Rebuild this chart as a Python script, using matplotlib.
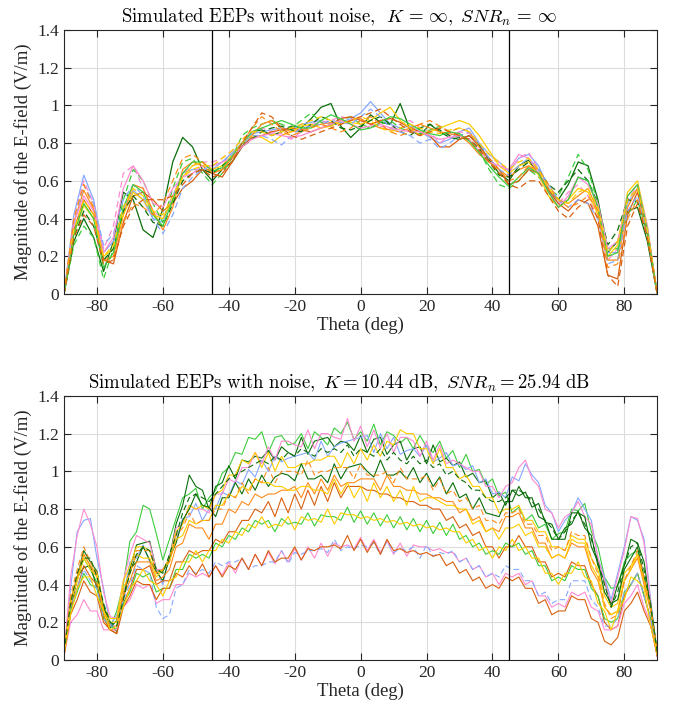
import numpy as np
import matplotlib
matplotlib.use("Agg")
import matplotlib.pyplot as plt
from matplotlib.ticker import FormatStrFormatter

plt.rcParams.update({
    "font.family": "Liberation Serif",
    "mathtext.fontset": "cm",
    "axes.unicode_minus": False,
})

# -- Colours (MATLAB-like palette in the figure) --
DGREEN = "#0a6e0a"
BLUE = "#86a8ff"
PINK = "#ff8ad0"
GREEN = "#3ccc3c"
ORANGE = "#ff8c1a"
DORANGE = "#d9600f"
YELLOW = "#ffcc00"

# -- Top panel: EEPs without noise, sampled every 3 deg (values x100) --
theta_top = np.arange(-90, 91, 3)

top_t1 = [0, 28, 40, 30, 12, 28, 54, 50, 34, 30,
          45, 70, 83, 78, 66, 60, 66, 70, 78, 86,
          87, 84, 86, 89, 88, 93, 99, 101, 89, 83,
          88, 95, 91, 90, 101, 87, 84, 90, 86, 83,
          82, 84, 79, 71, 64, 60, 68, 71, 64, 55,
          50, 58, 70, 68, 50, 22, 28, 44, 46, 28, 0]
top_t2 = [0, 42, 63, 50, 22, 28, 45, 55, 50, 40,
          38, 52, 64, 66, 66, 66, 70, 75, 80, 85,
          86, 87, 88, 87, 90, 91, 92, 90, 91, 93,
          96, 102, 96, 90, 88, 89, 86, 83, 80, 82,
          86, 88, 80, 74, 70, 65, 72, 74, 68, 56,
          48, 50, 62, 60, 46, 22, 22, 48, 56, 34, 0]
top_t3 = [0, 40, 60, 48, 24, 36, 64, 68, 56, 44,
          40, 52, 64, 68, 70, 70, 72, 76, 82, 86,
          88, 86, 85, 82, 86, 90, 91, 92, 94, 93,
          92, 90, 89, 88, 90, 92, 88, 86, 80, 84,
          86, 85, 78, 72, 70, 64, 72, 75, 66, 54,
          48, 54, 58, 52, 40, 18, 24, 50, 57, 34, 0]
top_t4 = [0, 26, 36, 30, 8, 24, 50, 66, 60, 48,
          38, 56, 70, 72, 64, 58, 64, 72, 84, 88,
          90, 92, 90, 88, 92, 96, 91, 89, 92, 94,
          90, 88, 90, 92, 88, 86, 85, 87, 89, 86,
          84, 82, 76, 66, 58, 56, 60, 66, 62, 56,
          52, 62, 74, 66, 48, 24, 24, 42, 50, 32, 0]
top_t5 = [0, 38, 55, 45, 18, 20, 42, 58, 56, 44,
          34, 46, 66, 70, 68, 64, 66, 72, 78, 84,
          90, 92, 88, 86, 87, 89, 90, 91, 90, 92,
          93, 90, 88, 87, 86, 88, 90, 88, 86, 85,
          84, 80, 74, 70, 66, 62, 66, 68, 64, 56,
          50, 48, 52, 56, 44, 18, 18, 46, 56, 34, 0]
top_t6 = [0, 34, 50, 42, 18, 16, 38, 52, 54, 50,
          44, 48, 56, 60, 66, 64, 62, 70, 78, 83,
          84, 86, 87, 88, 87, 86, 88, 90, 93, 94,
          92, 90, 92, 93, 91, 88, 86, 84, 78, 78,
          82, 84, 78, 72, 66, 58, 60, 66, 64, 55,
          48, 44, 50, 48, 36, 10, 8, 42, 54, 33, 0]
top_t7 = [0, 32, 47, 40, 20, 24, 42, 54, 50, 42,
          40, 50, 62, 68, 70, 66, 68, 74, 80, 84,
          83, 80, 84, 86, 89, 90, 88, 89, 92, 91,
          90, 92, 96, 99, 92, 88, 84, 86, 88, 90,
          92, 90, 84, 76, 68, 64, 68, 70, 63, 52,
          46, 50, 56, 54, 42, 20, 26, 54, 60, 36, 0]
top_t8 = [0, 30, 44, 36, 18, 24, 44, 52, 46, 38,
          36, 48, 60, 64, 66, 64, 68, 72, 78, 82,
          86, 88, 89, 87, 86, 90, 94, 92, 88, 87,
          89, 92, 94, 90, 86, 84, 88, 90, 87, 84,
          83, 82, 77, 70, 63, 62, 66, 70, 66, 58,
          54, 60, 66, 60, 48, 26, 34, 50, 49, 30, 0]
top_t9 = [0, 36, 58, 48, 26, 32, 50, 58, 52, 40,
          32, 42, 56, 62, 66, 68, 70, 74, 79, 84,
          84, 82, 79, 84, 88, 89, 90, 92, 91, 90,
          94, 98, 94, 88, 86, 84, 80, 82, 77, 80,
          84, 86, 80, 72, 66, 63, 68, 72, 66, 58,
          50, 46, 50, 48, 40, 16, 18, 44, 52, 32, 0]
top_t10 = [0, 38, 52, 44, 22, 30, 56, 68, 60, 48,
           46, 56, 62, 64, 68, 68, 70, 72, 78, 82,
           84, 85, 84, 83, 84, 86, 88, 90, 92, 90,
           88, 89, 90, 88, 87, 86, 86, 84, 82, 83,
           84, 82, 76, 70, 68, 66, 74, 72, 64, 54,
           46, 52, 62, 58, 48, 24, 28, 52, 58, 36, 0]
top_t11 = [0, 32, 48, 40, 14, 22, 46, 58, 54, 42,
           36, 50, 64, 70, 70, 65, 67, 73, 80, 86,
           88, 90, 92, 90, 88, 88, 92, 95, 93, 90,
           87, 88, 91, 94, 93, 90, 87, 85, 84, 86,
           85, 81, 75, 68, 62, 57, 62, 67, 64, 54,
           46, 50, 62, 60, 46, 20, 22, 52, 58, 34, 0]
top_t12 = [0, 40, 58, 46, 18, 18, 38, 48, 46, 42,
           48, 60, 72, 74, 70, 64, 66, 72, 80, 88,
           94, 90, 86, 84, 86, 88, 90, 88, 86, 88,
           92, 94, 90, 86, 84, 86, 90, 92, 89, 86,
           88, 86, 78, 70, 66, 60, 62, 68, 66, 58,
           50, 46, 48, 52, 44, 14, 16, 40, 50, 30, 0]
top_t13 = [0, 34, 50, 42, 20, 26, 46, 56, 52, 44,
           42, 52, 62, 66, 68, 68, 72, 76, 82, 86,
           86, 84, 86, 88, 90, 92, 94, 92, 90, 92,
           94, 92, 88, 86, 88, 90, 88, 86, 85, 87,
           88, 86, 80, 74, 70, 66, 70, 72, 66, 56,
           50, 48, 54, 56, 46, 22, 28, 50, 56, 34, 0]
top_t14 = [0, 30, 42, 36, 16, 18, 36, 46, 50, 50,
           50, 52, 58, 64, 66, 62, 64, 70, 80, 88,
           96, 94, 88, 84, 82, 84, 86, 88, 90, 92,
           94, 96, 98, 94, 90, 86, 84, 86, 88, 86,
           84, 82, 76, 70, 64, 58, 56, 60, 60, 52,
           44, 40, 46, 50, 40, 10, 4, 36, 48, 30, 0]

top_curves = [top_t1, top_t2, top_t3, top_t4, top_t5, top_t6, top_t7,
              top_t8, top_t9, top_t10, top_t11, top_t12, top_t13, top_t14]
top_colors = [DGREEN, BLUE, PINK, GREEN, ORANGE, DORANGE, YELLOW,
              DGREEN, BLUE, PINK, GREEN, ORANGE, YELLOW, DORANGE]
top_styles = ["-", "-", "--", "--", "-", "-", "-",
              "--", "--", "-", "-", "--", "--", "--"]

# -- Bottom panel: EEPs with noise, sampled every 2 deg (values x100) --
theta_bot = np.arange(-90, 91, 2)

bot_b1 = [3, 30, 42, 54, 48, 41, 24, 17, 26, 40,
          63, 68, 82, 80, 67, 53, 64, 75, 86, 88,
          91, 80, 86, 90, 99, 102, 110, 109, 118, 117,
          121, 110, 118, 119, 114, 115, 120, 112, 121, 118,
          114, 123, 120, 126, 117, 121, 116, 125, 114, 121,
          119, 115, 118, 112, 119, 113, 110, 116, 107, 111,
          102, 109, 100, 101, 93, 96, 87, 89, 78, 81,
          74, 77, 70, 72, 64, 67, 68, 80, 79, 83,
          68, 60, 44, 38, 39, 52, 56, 58, 42, 28, 4]
bot_b2 = [4, 28, 44, 58, 52, 47, 28, 20, 15, 33,
          48, 61, 62, 63, 48, 47, 54, 72, 82, 98,
          92, 90, 80, 92, 94, 103, 96, 106, 105, 108,
          107, 111, 106, 113, 110, 108, 118, 109, 116, 117,
          118, 113, 116, 115, 111, 119, 110, 117, 118, 109,
          114, 116, 106, 112, 113, 104, 114, 105, 107, 103,
          105, 97, 99, 94, 95, 86, 89, 82, 90, 87,
          89, 81, 83, 73, 72, 64, 70, 72, 79, 70,
          66, 50, 42, 28, 40, 50, 64, 62, 52, 28, 4]
bot_b3 = [2, 38, 68, 74, 75, 54, 38, 18, 24, 34,
          52, 54, 61, 52, 48, 40, 56, 63, 75, 76,
          83, 74, 80, 80, 89, 87, 95, 93, 101, 97,
          106, 100, 108, 105, 107, 108, 109, 110, 106, 116,
          108, 113, 115, 116, 117, 118, 119, 110, 120, 112,
          118, 109, 111, 112, 108, 114, 105, 107, 110, 103,
          104, 101, 103, 94, 96, 88, 89, 86, 97, 95,
          104, 98, 94, 82, 78, 68, 74, 78, 86, 80,
          74, 54, 44, 32, 46, 60, 76, 74, 64, 32, 3]
bot_b4 = [3, 44, 66, 80, 72, 60, 36, 23, 22, 42,
          56, 66, 64, 62, 48, 48, 54, 70, 72, 82,
          80, 80, 78, 88, 88, 96, 94, 102, 102, 110,
          104, 113, 106, 116, 116, 114, 113, 122, 112, 120,
          120, 118, 117, 128, 116, 124, 113, 122, 112, 120,
          110, 118, 118, 116, 108, 116, 106, 114, 104, 106,
          104, 102, 100, 100, 92, 92, 86, 92, 94, 102,
          106, 96, 92, 80, 78, 70, 76, 78, 84, 76,
          72, 54, 42, 30, 44, 58, 76, 75, 62, 30, 3]
bot_b5 = [3, 32, 44, 56, 50, 46, 28, 22, 22, 42,
          50, 60, 60, 58, 46, 48, 54, 68, 72, 82,
          80, 82, 80, 88, 90, 98, 98, 106, 104, 110,
          102, 110, 100, 108, 102, 102, 104, 104, 106, 106,
          108, 108, 102, 110, 104, 112, 106, 114, 108, 116,
          114, 122, 120, 120, 112, 112, 104, 112, 102, 102,
          96, 98, 92, 92, 86, 86, 78, 80, 80, 82,
          74, 74, 68, 68, 60, 60, 58, 66, 64, 64,
          54, 48, 34, 28, 30, 46, 50, 56, 42, 28, 3]
bot_b6 = [3, 26, 44, 49, 50, 38, 29, 17, 21, 33,
          48, 52, 60, 53, 47, 42, 54, 62, 74, 80,
          88, 82, 81, 76, 86, 86, 94, 88, 96, 90,
          98, 92, 97, 99, 98, 95, 104, 96, 96, 98,
          94, 104, 96, 102, 103, 104, 100, 97, 106, 98,
          98, 100, 96, 102, 94, 99, 92, 97, 88, 94,
          86, 88, 80, 86, 78, 77, 76, 84, 84, 92,
          86, 86, 76, 74, 64, 64, 64, 78, 78, 76,
          60, 52, 36, 30, 32, 48, 54, 60, 44, 30, 4]
bot_b7 = [4, 32, 44, 56, 50, 44, 24, 16, 16, 34,
          42, 52, 52, 52, 42, 44, 48, 60, 62, 72,
          70, 70, 64, 72, 72, 80, 78, 84, 82, 88,
          86, 88, 88, 90, 90, 92, 86, 94, 88, 96,
          90, 98, 92, 94, 94, 96, 96, 96, 90, 98,
          92, 92, 90, 90, 88, 88, 86, 86, 84, 84,
          78, 80, 74, 76, 68, 70, 68, 76, 76, 78,
          70, 70, 62, 62, 54, 56, 54, 62, 60, 60,
          48, 42, 28, 24, 26, 42, 48, 54, 40, 26, 3]
bot_b8 = [2, 28, 38, 50, 44, 40, 22, 16, 14, 30,
          38, 48, 48, 50, 40, 42, 42, 52, 52, 58,
          56, 58, 58, 64, 62, 68, 68, 74, 74, 80,
          78, 84, 76, 86, 78, 88, 80, 90, 82, 92,
          84, 94, 86, 92, 92, 92, 90, 90, 88, 88,
          86, 86, 84, 84, 82, 82, 80, 80, 74, 76,
          70, 72, 66, 68, 60, 60, 54, 60, 60, 66,
          60, 60, 52, 52, 44, 46, 44, 52, 50, 50,
          40, 34, 20, 16, 18, 34, 40, 46, 34, 22, 2]
bot_b9 = [3, 26, 36, 46, 40, 38, 22, 18, 16, 30,
          36, 46, 44, 46, 36, 38, 38, 48, 48, 56,
          54, 56, 54, 62, 60, 66, 64, 70, 68, 74,
          72, 74, 68, 75, 72, 73, 72, 78, 71, 77,
          76, 76, 74, 81, 73, 79, 72, 78, 71, 77,
          70, 76, 69, 75, 68, 74, 67, 73, 66, 72,
          64, 66, 60, 62, 56, 58, 56, 62, 60, 62,
          56, 58, 50, 50, 42, 44, 42, 50, 48, 48,
          38, 34, 22, 20, 22, 36, 40, 46, 34, 22, 3]
bot_b10 = [2, 20, 24, 32, 26, 26, 16, 16, 16, 28,
           32, 40, 38, 40, 30, 32, 32, 40, 40, 46,
           44, 46, 44, 50, 45, 52, 46, 54, 48, 56,
           50, 57, 51, 58, 52, 59, 53, 60, 54, 62,
           55, 62, 60, 61, 59, 65, 58, 64, 57, 63,
           56, 62, 55, 61, 60, 60, 58, 59, 57, 57,
           52, 54, 48, 50, 44, 46, 40, 46, 44, 46,
           40, 42, 34, 34, 28, 30, 28, 36, 34, 36,
           28, 26, 16, 16, 18, 30, 34, 40, 28, 20, 2]
bot_b11 = [3, 28, 38, 48, 42, 38, 22, 18, 18, 32,
           40, 50, 48, 46, 28, 22, 24, 38, 40, 48,
           46, 48, 46, 52, 50, 52, 52, 54, 48, 50,
           50, 52, 52, 58, 51, 57, 56, 58, 58, 59,
           57, 64, 58, 60, 59, 61, 60, 62, 56, 63,
           57, 59, 58, 60, 54, 61, 55, 57, 56, 58,
           52, 54, 48, 50, 44, 46, 44, 50, 48, 48,
           42, 42, 34, 36, 30, 32, 32, 42, 42, 42,
           32, 28, 18, 18, 22, 36, 40, 46, 34, 22, 3]
bot_b12 = [2, 24, 32, 42, 36, 34, 20, 16, 14, 28,
           34, 42, 40, 40, 32, 38, 38, 46, 44, 50,
           45, 51, 44, 50, 44, 50, 48, 54, 48, 56,
           50, 58, 52, 54, 54, 60, 53, 59, 58, 60,
           60, 61, 59, 66, 58, 64, 57, 63, 56, 64,
           58, 59, 57, 58, 56, 57, 55, 56, 50, 52,
           46, 48, 42, 44, 38, 40, 38, 44, 42, 44,
           38, 38, 30, 32, 24, 26, 26, 34, 32, 32,
           22, 20, 10, 8, 12, 26, 30, 36, 26, 18, 2]
bot_b13 = [3, 30, 42, 54, 48, 44, 26, 20, 20, 38,
           46, 56, 54, 54, 44, 48, 52, 64, 66, 74,
           72, 74, 74, 82, 82, 88, 86, 92, 90, 96,
           94, 94, 92, 92, 90, 90, 92, 92, 90, 90,
           88, 96, 88, 94, 86, 92, 84, 94, 86, 92,
           84, 90, 82, 92, 84, 86, 86, 84, 82, 82,
           80, 80, 72, 74, 68, 70, 64, 70, 70, 72,
           66, 68, 60, 60, 54, 56, 54, 64, 62, 62,
           50, 44, 28, 24, 26, 42, 48, 56, 42, 28, 3]
bot_b14 = [4, 34, 48, 60, 52, 46, 26, 18, 18, 36,
           46, 58, 58, 58, 46, 48, 52, 66, 70, 78,
           72, 74, 74, 80, 80, 88, 86, 94, 88, 96,
           94, 102, 94, 100, 100, 100, 98, 106, 98, 100,
           100, 102, 102, 102, 96, 104, 98, 98, 98, 100,
           94, 102, 96, 96, 96, 98, 90, 96, 88, 90,
           84, 86, 80, 82, 74, 74, 72, 78, 78, 80,
           72, 72, 66, 66, 58, 60, 58, 68, 66, 66,
           54, 46, 30, 22, 24, 42, 50, 58, 44, 28, 4]
bot_b15 = [3, 24, 38, 44, 44, 34, 26, 16, 18, 28,
           38, 42, 48, 42, 40, 34, 42, 44, 52, 52,
           58, 52, 58, 58, 64, 62, 68, 66, 72, 70,
           76, 70, 72, 71, 76, 69, 76, 74, 75, 73,
           80, 72, 78, 77, 77, 75, 76, 74, 75, 73,
           74, 72, 73, 71, 72, 70, 71, 69, 70, 68,
           68, 62, 64, 58, 60, 54, 60, 58, 64, 58,
           60, 54, 54, 46, 46, 40, 46, 46, 52, 44,
           42, 30, 26, 16, 26, 32, 44, 42, 38, 18, 3]
bot_b16 = [4, 30, 46, 54, 54, 44, 30, 20, 18, 32,
           46, 56, 60, 58, 48, 46, 56, 66, 78, 86,
           88, 86, 84, 88, 92, 96, 98, 100, 102, 104,
           106, 104, 108, 106, 110, 108, 112, 110, 108, 112,
           110, 112, 110, 114, 108, 112, 110, 108, 112, 106,
           110, 106, 104, 108, 104, 106, 102, 104, 98, 100,
           96, 94, 90, 90, 86, 84, 84, 86, 90, 90,
           88, 84, 80, 74, 70, 64, 68, 74, 78, 72,
           64, 52, 40, 28, 36, 50, 60, 62, 48, 28, 4]

bot_curves = [bot_b1, bot_b2, bot_b3, bot_b4, bot_b5, bot_b6, bot_b7, bot_b8,
              bot_b9, bot_b10, bot_b11, bot_b12, bot_b13, bot_b14, bot_b15,
              bot_b16]
bot_colors = [GREEN, DGREEN, BLUE, PINK, YELLOW, DGREEN, ORANGE, DORANGE,
              GREEN, PINK, BLUE, DORANGE, YELLOW, ORANGE, YELLOW, DGREEN]
bot_styles = ["-", "-", "-", "-", "-", "-", "-", "-",
              "-", "-", "--", "-", "-", "--", "-", "--"]

top_title = (r"$\mathrm{Simulated\ EEPs\ without\ noise,}\ \,K\,=\,\infty\mathrm{,}"
             r"\ \,SNR_n\,=\,\infty$")
bot_title = (r"$\mathrm{Simulated\ EEPs\ with\ noise,}\ K=10.44\ \mathrm{dB,}\ "
             r"SNR_n=25.94\ \mathrm{dB}$")


def style_axes(ax, title):
    ax.set_xlim(-90, 90)
    ax.set_ylim(0, 1.4)
    ax.set_xticks(np.arange(-80, 81, 20))
    ax.set_yticks(np.arange(0, 1.41, 0.2))
    ax.yaxis.set_major_formatter(FormatStrFormatter("%g"))
    ax.grid(True, color="#dcdcdc", linewidth=0.8)
    ax.set_axisbelow(True)
    ax.tick_params(direction="in", top=True, right=True, length=5,
                   width=0.8, labelsize=12.5, colors="#262626",
                   labelcolor="#262626")
    for sp in ax.spines.values():
        sp.set_color("#262626")
        sp.set_linewidth(0.8)
    ax.axvline(-45, color="black", linewidth=0.9)
    ax.axvline(45, color="black", linewidth=0.9)
    ax.set_xlabel("Theta (deg)", fontsize=13.5, labelpad=1, color="#262626")
    ax.set_ylabel("Magnitude of the E-field (V/m)", fontsize=13.5,
                  labelpad=4, color="#262626")
    # title centred on the figure, like the original
    ax.set_title(title, fontsize=13.5, pad=5, x=0.464)


fig = plt.figure(figsize=(6.78, 7.12), dpi=100)
ax_top = fig.add_axes([0.0944, 0.587, 0.875, 0.371])
ax_bot = fig.add_axes([0.0944, 0.073, 0.875, 0.371])

for vals, c, ls in zip(top_curves, top_colors, top_styles):
    ax_top.plot(theta_top, np.array(vals) / 100, color=c, linestyle=ls,
                linewidth=0.9, dashes=(5, 3) if ls == "--" else (None, None))
style_axes(ax_top, top_title)

for vals, c, ls in zip(bot_curves, bot_colors, bot_styles):
    ax_bot.plot(theta_bot, np.array(vals) / 100, color=c, linestyle=ls,
                linewidth=0.8, dashes=(5, 3) if ls == "--" else (None, None))
style_axes(ax_bot, bot_title)

fig.savefig("out.png", dpi=100)
